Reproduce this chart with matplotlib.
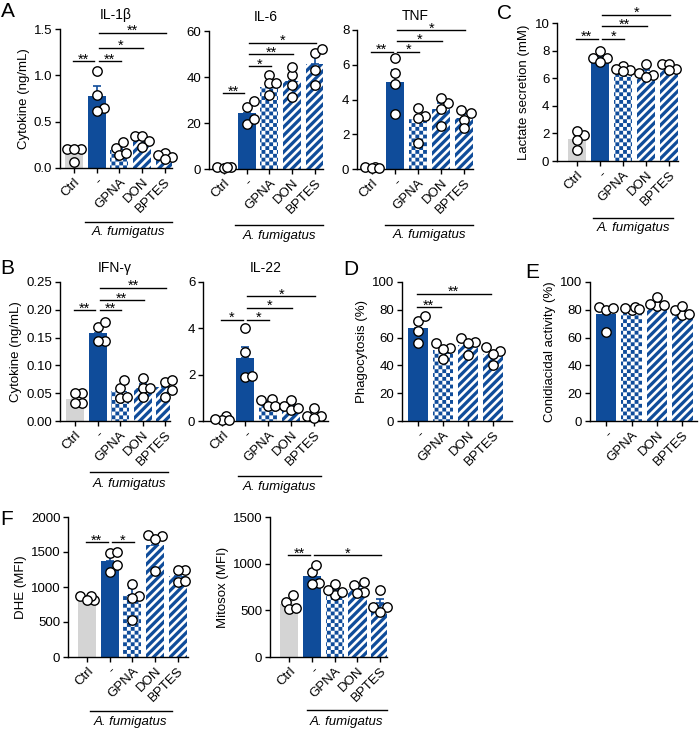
import numpy as np
import matplotlib
matplotlib.use("Agg")
import matplotlib.pyplot as plt
import matplotlib.hatch as mhatch
from matplotlib.path import Path
from matplotlib import transforms
from matplotlib.ticker import FormatStrFormatter

BLUE = '#0f4c9a'
GRAY = '#d4d4d4'
W, H = 700, 731

plt.rcParams['font.family'] = ['Liberation Sans', 'DejaVu Sans']
plt.rcParams['font.size'] = 9.5
plt.rcParams['hatch.linewidth'] = 0.01
plt.rcParams['hatch.color'] = BLUE

groups5 = ['Ctrl', '-', 'GPNA', 'DON', 'BPTES']
groups4 = ['-', 'GPNA', 'DON', 'BPTES']
styles5 = ['ctrl', 'solid', 'checker', 'stripe', 'stripe']
styles4 = ['solid', 'checker', 'stripe', 'stripe']

# --- data ---
il1b_mean = [0.17, 0.78, 0.20, 0.30, 0.12]
il1b_sem = [0.035, 0.10, 0.03, 0.025, 0.015]
il1b_pts = [[0.21, 0.21, 0.20, 0.07], [1.05, 0.79, 0.65, 0.61], [0.22, 0.28, 0.14, 0.16],
            [0.34, 0.34, 0.29, 0.23], [0.16, 0.14, 0.12, 0.10]]
il1b_sig = [(0, 1, 1.15, '**'), (1, 2, 1.15, '**'), (1, 3, 1.30, '*'), (1, 4, 1.46, '**')]

il6_mean = [0.8, 24.3, 35.5, 38.3, 45.6]
il6_sem = [0.1, 2.5, 1.8, 2.9, 3.4]
il6_pts = [[0.9, 0.6, 0.8, 0.9], [26.8, 29.6, 19.6, 21.6], [40.9, 37.2, 37.2, 32.2],
           [40.9, 44.5, 36.5, 31.4], [50.3, 52.0, 43.0, 36.5]]
il6_sig = [(0, 1, 32.9, '**'), (1, 2, 44.8, '*'), (1, 3, 50.0, '**'), (1, 4, 54.9, '*')]

tnf_mean = [0.08, 5.0, 2.9, 3.45, 2.95]
tnf_sem = [0.03, 0.67, 0.45, 0.35, 0.22]
tnf_pts = [[0.1, 0.12, 0.05, 0.08], [6.37, 5.55, 4.9, 3.17], [3.07, 3.5, 2.95, 1.52],
           [3.82, 4.09, 3.44, 2.48], [3.24, 3.4, 2.83, 2.36]]
tnf_sig = [(0, 1, 6.75, '**'), (1, 2, 6.75, '*'), (1, 3, 7.37, '*'), (1, 4, 8.0, '*')]

lac_mean = [1.6, 7.55, 6.65, 6.4, 6.75]
lac_sem = [0.28, 0.18, 0.08, 0.2, 0.1]
lac_pts = [[1.9, 2.19, 1.54, 0.82], [8.0, 7.5, 7.5, 7.2], [6.9, 6.6, 6.7, 6.5],
           [6.2, 6.4, 7.0, 6.1], [6.7, 7.0, 7.0, 6.6]]
lac_sig = [(0, 1, 8.87, '**'), (1, 2, 8.87, '*'), (1, 3, 9.76, '**'), (1, 4, 10.6, '*')]

ifn_mean = [0.04, 0.158, 0.054, 0.06, 0.061]
ifn_sem = [0.005, 0.009, 0.007, 0.007, 0.006]
ifn_pts = [[0.05, 0.05, 0.033, 0.033], [0.169, 0.178, 0.143, 0.143], [0.059, 0.073, 0.041, 0.044],
           [0.059, 0.077, 0.059, 0.044], [0.071, 0.073, 0.056, 0.044]]
ifn_sig = [(0, 1, 0.199, '**'), (1, 2, 0.199, '**'), (1, 3, 0.218, '**'), (1, 4, 0.24, '**')]

il22_mean = [0.1, 2.71, 0.79, 0.65, 0.27]
il22_sem = [0.04, 0.48, 0.08, 0.1, 0.1]
il22_pts = [[0.2, 0.05, 0.05, 0.1], [4.0, 2.99, 1.92, 1.95], [0.95, 0.92, 0.63, 0.66],
            [0.92, 0.66, 0.49, 0.55], [0.2, 0.56, 0.2, 0.13]]
il22_sig = [(0, 1, 4.38, '*'), (1, 2, 4.38, '*'), (1, 3, 4.89, '*'), (1, 4, 5.39, '*')]

phag_mean = [67, 51, 55, 48]
phag_sem = [4.0, 2.4, 2.5, 2.7]
phag_pts = [[71.6, 75.6, 64.7, 56.3], [55.8, 52.3, 44.4, 51.5], [59.4, 57, 47.7, 56],
            [53, 50.4, 40.3, 48.5]]
phag_sig = [(0, 1, 82, '**'), (0, 3, 91.6, '**')]

coni_mean = [76.7, 80.5, 83, 78]
coni_sem = [4.3, 0.5, 1.5, 1.5]
coni_pts = [[82, 80, 81, 64], [80, 82, 81, 80.5], [83, 84, 89, 83.5], [76, 80, 83, 77]]

dhe_mean = [840, 1375, 880, 1595, 1157]
dhe_sem = [15, 62, 100, 120, 45]
dhe_pts = [[820, 870, 870, 810], [1486, 1500, 1310, 1214], [1048, 867, 843, 533],
           [1738, 1724, 1690, 1229], [1238, 1238, 1071, 1081]]
dhe_sig = [(0, 1, 1638, '**'), (1, 2, 1638, '*')]

mito_mean = [570, 867, 715, 730, 575]
mito_sem = [35, 50, 25, 30, 50]
mito_pts = [[660, 590, 510, 520], [910, 990, 790, 780], [660, 700, 780, 720],
            [700, 770, 800, 690], [540, 720, 540, 480]]
mito_sig = [(0, 1, 1089, '**'), (1, 4, 1089, '*')]


# custom fills: checkerboard ('o') and filled diagonal stripes ('O')
class CheckerHatch(mhatch.HatchPatternBase):
    def __init__(self, hatch, density):
        self.n = 26 if 'o' in hatch else 0
        self.num_vertices = self.n * self.n // 2 * 5

    def set_vertices_and_codes(self, vertices, codes):
        s = 1.0 / self.n
        k = 0
        for i in range(self.n):
            for j in range(self.n):
                if (i + j) % 2:
                    continue
                x, y = i * s, j * s
                vertices[k:k + 5] = [(x, y), (x + s, y), (x + s, y + s), (x, y + s), (x, y)]
                codes[k:k + 5] = [Path.MOVETO, Path.LINETO, Path.LINETO, Path.LINETO, Path.CLOSEPOLY]
                k += 5


class StripeHatch(mhatch.HatchPatternBase):
    def __init__(self, hatch, density):
        self.n = 12 if 'O' in hatch else 0
        self.num_vertices = (2 * self.n + 2) * 5 if self.n else 0

    def set_vertices_and_codes(self, vertices, codes):
        p = 1.0 / self.n
        w = 0.55 * p
        k = 0
        for i in range(-self.n - 1, self.n + 1):
            c = i * p
            vertices[k:k + 5] = [(c, 0), (c + 1, 1), (c + 1 + w, 1), (c + w, 0), (c, 0)]
            codes[k:k + 5] = [Path.MOVETO, Path.LINETO, Path.LINETO, Path.LINETO, Path.CLOSEPOLY]
            k += 5


mhatch._hatch_types = [t for t in mhatch._hatch_types
                       if t.__name__ not in ('SmallCircles', 'LargeCircles')] + [CheckerHatch, StripeHatch]

fig = plt.figure(figsize=(W / 100, H / 100), dpi=100)


def add_axes(l, t, r, b):
    return fig.add_axes([l / W, 1 - b / H, (r - l) / W, (b - t) / H])


def swarm(ax, x0, vals, d=8.0, step=3.5):
    # nudge points sideways so circles of equal value do not sit on each other
    placed = []
    out = np.zeros(len(vals))
    for k in np.argsort(vals):
        px, py = ax.transData.transform((x0, vals[k]))
        cands = [px + s * step for s in (0, 1, -1, 2, -2)]
        best, bestd = None, -1
        for cx in cands:
            md = min([np.hypot(cx - qx, py - qy) for qx, qy in placed] + [99])
            if md >= d:
                best = cx
                break
            if md > bestd:
                best, bestd = cx, md
        placed.append((best, py))
        out[k] = ax.transData.inverted().transform((best, py))[0]
    return out


def panel(rect, labels, styles, means, sems, pts, xlim, ylim, yticks, fmt,
          ylabel=None, title=None, sig=()):
    ax = add_axes(*rect)
    x = np.arange(len(labels))
    ax.set_xlim(*xlim)
    ax.set_ylim(*ylim)
    bars = ax.bar(x, means, width=0.8, linewidth=0, zorder=2)
    for b, st in zip(bars, styles):
        if st == 'ctrl':
            b.set_facecolor(GRAY)
            b.set_edgecolor(GRAY)
        elif st == 'solid':
            b.set_facecolor(BLUE)
            b.set_edgecolor(BLUE)
        else:
            b.set_facecolor('white')
            b.set_edgecolor(BLUE)
            b.set_hatch('oo' if st == 'checker' else 'O')
    for xi, m, e, st in zip(x, means, sems, styles):
        c = GRAY if st == 'ctrl' else BLUE
        ax.errorbar(xi, m, yerr=[[0], [e]], fmt='none', ecolor=c, elinewidth=1.2,
                    capsize=2.8, capthick=1.2, zorder=3)
    for xi, v in zip(x, pts):
        xs = swarm(ax, xi, v)
        ax.scatter(xs, v, s=46, facecolor='white', edgecolor='black', linewidths=1.0,
                   zorder=4, clip_on=False)
    for i, j, y, lab in sig:
        x0 = i - 0.05 if i == 0 else i + 0.1
        x1 = j - 0.1 if i == 0 else j + 0.05
        ax.plot([x0, x1], [y, y], color='black', lw=1.0, clip_on=False, zorder=5)
        ax.annotate(lab, ((x0 + x1) / 2, y), xytext=(0, -1.8), textcoords='offset points',
                    ha='center', va='baseline', fontsize=10.5, annotation_clip=False)
    ax.set_xticks(x)
    ax.set_xticklabels(labels, rotation=45, ha='right', rotation_mode='anchor')
    ax.set_yticks(yticks)
    ax.yaxis.set_major_formatter(FormatStrFormatter(fmt))
    for s in ('top', 'right'):
        ax.spines[s].set_visible(False)
    for s in ('left', 'bottom'):
        ax.spines[s].set_linewidth(1.0)
    ax.tick_params(length=3.5, width=1.0, labelsize=9.5, pad=2)
    if ylabel:
        ax.set_ylabel(ylabel, fontsize=9.5, labelpad=3)
    if title:
        ax.set_title(title, fontsize=10, pad=7)
    return ax


def fumigatus(ax, x0, x1, yl, yt):
    tr = transforms.blended_transform_factory(ax.transData, fig.transFigure)
    ax.plot([x0, x1], [1 - yl / H] * 2, transform=tr, color='black', lw=1.0, clip_on=False)
    ax.text((x0 + x1) / 2, 1 - yt / H, 'A. fumigatus', transform=tr, ha='center', va='center',
            style='italic', fontsize=9.5)


ax = panel((60, 29, 172, 168), groups5, styles5, il1b_mean, il1b_sem, il1b_pts, (-0.62, 4.32),
           (0, 1.5), [0, 0.5, 1.0, 1.5], '%.1f', 'Cytokine (ng/mL)', 'IL-1β', il1b_sig)
fumigatus(ax, 0.5, 4.3, 222, 232)
ax = panel((209, 31, 323, 169), groups5, styles5, il6_mean, il6_sem, il6_pts, (-0.66, 4.36),
           (0, 60), [0, 20, 40, 60], '%d', None, 'IL-6', il6_sig)
fumigatus(ax, 0.5, 4.36, 225, 236)
ax = panel((357, 30, 473, 169), groups5, styles5, tnf_mean, tnf_sem, tnf_pts, (-0.65, 4.39),
           (0, 8), [0, 2, 4, 6, 8], '%d', None, 'TNF', tnf_sig)
fumigatus(ax, 0.57, 4.4, 225, 235)
ax = panel((557, 23, 678, 161), groups5, styles5, lac_mean, lac_sem, lac_pts, (-0.87, 4.39),
           (0, 10), [0, 2, 4, 6, 8, 10], '%d', 'Lactate secretion (mM)', None, lac_sig)
fumigatus(ax, 0.7, 4.17, 218, 228)

ax = panel((60, 282, 170, 421), groups5, styles5, ifn_mean, ifn_sem, ifn_pts, (-0.67, 4.22),
           (0, 0.25), [0, 0.05, 0.10, 0.15, 0.20, 0.25], '%.2f', 'Cytokine (ng/mL)', 'IFN-γ', ifn_sig)
fumigatus(ax, 0.67, 4.13, 472, 484)
ax = panel((203, 282, 328, 421), groups5, styles5, il22_mean, il22_sem, il22_pts, (-0.83, 4.6),
           (0, 6), [0, 2, 4, 6], '%d', None, 'IL-22', il22_sig)
fumigatus(ax, 0.7, 4.3, 476, 487)
panel((402, 282, 512, 421), groups4, styles4, phag_mean, phag_sem, phag_pts, (-0.64, 3.76),
      (0, 100), [0, 20, 40, 60, 80, 100], '%d', 'Phagocytosis (%)', None, phag_sig)
panel((590, 282, 697, 421), groups4, styles4, coni_mean, coni_sem, coni_pts, (-0.63, 3.57),
      (0, 100), [0, 20, 40, 60, 80, 100], '%d', 'Conidiacidal activity (%)')

ax = panel((68, 517, 188, 657), groups5, styles5, dhe_mean, dhe_sem, dhe_pts, (-0.85, 4.46),
           (0, 2000), [0, 500, 1000, 1500, 2000], '%d', 'DHE (MFI)', None, dhe_sig)
fumigatus(ax, 0.12, 3.73, 711, 722)
ax = panel((270, 517, 387, 657), groups5, styles5, mito_mean, mito_sem, mito_pts, (-0.85, 4.3),
           (0, 1500), [0, 500, 1000, 1500], '%d', 'Mitosox (MFI)', None, mito_sig)
fumigatus(ax, 0.77, 4.29, 710, 722)

for letter, px, py in [('A', 1, 2), ('B', 0, 259), ('C', 497, 4), ('D', 343, 260),
                       ('E', 525, 263), ('F', 0, 510)]:
    fig.text(px / W, 1 - py / H, letter, fontsize=15, ha='left', va='top')

fig.savefig('out.png', dpi=100)
